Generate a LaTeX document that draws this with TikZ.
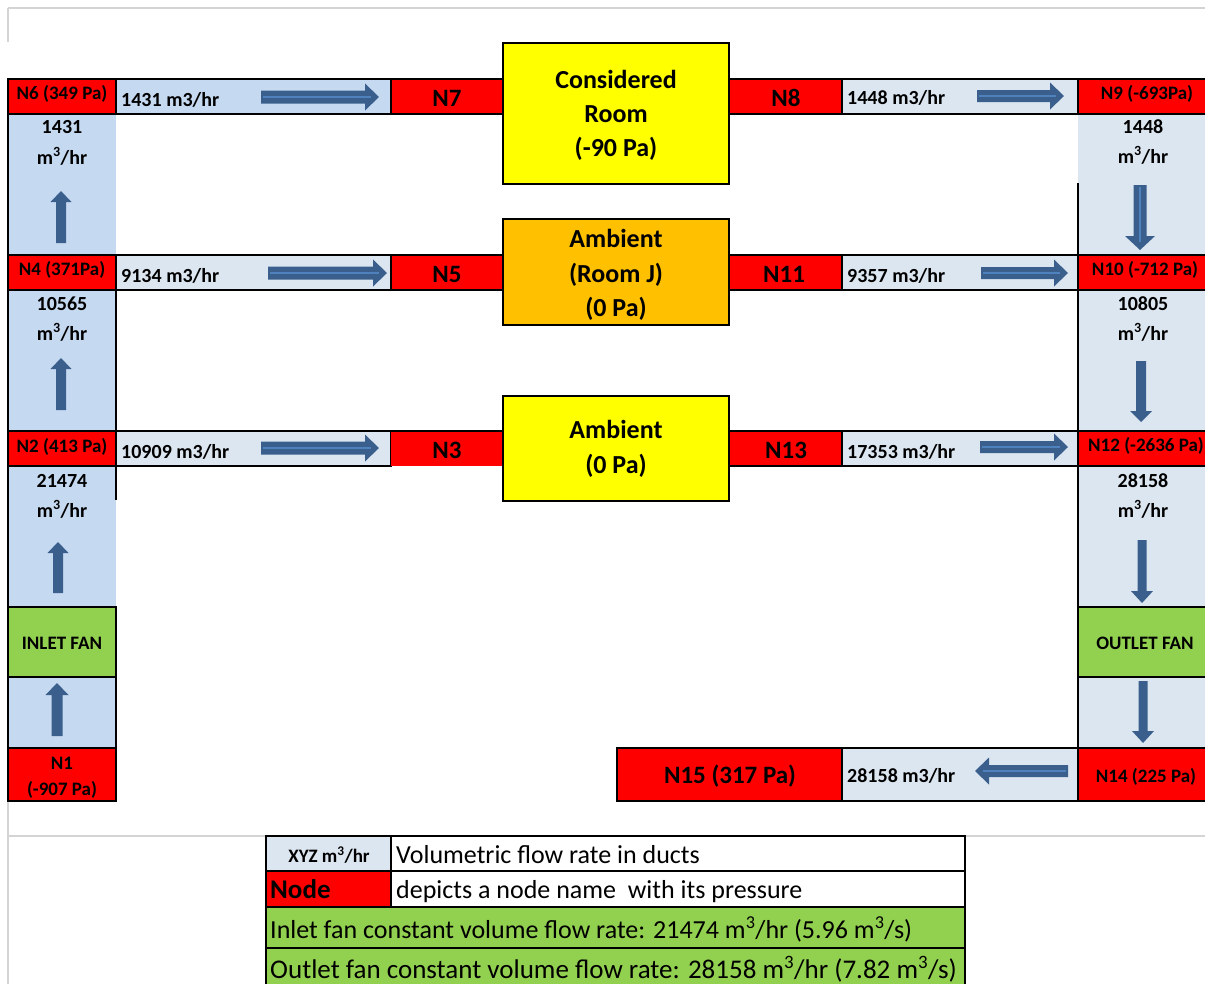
\documentclass[tikz,border=0pt]{standalone}
\usepackage{fontspec}
\setmainfont{Carlito}
\definecolor{nred}{HTML}{FF0000}
\definecolor{lblue}{HTML}{C5D9F1}
\definecolor{pblue}{HTML}{DCE6F1}
\definecolor{ryellow}{HTML}{FFFF00}
\definecolor{rorange}{HTML}{FFC000}
\definecolor{fgreen}{HTML}{92D050}
\definecolor{arrowc}{HTML}{3A5F8C}
\definecolor{arrowl}{HTML}{4F81BD}
\definecolor{gridg}{HTML}{D4D4D4}
\tikzset{
  cell/.style={rectangle, inner sep=0pt, outer sep=0pt, line width=2.4pt},
  bx/.style={cell, draw=black},
  border/.style={line width=2.4pt, black},
  smallb/.style={font=\bfseries\fontsize{19}{22}\selectfont, inner sep=0pt, anchor=base},
  colt/.style={font=\bfseries\fontsize{20}{23}\selectfont, inner sep=0pt, anchor=base},
  flowt/.style={font=\bfseries\fontsize{20}{23}\selectfont, inner sep=0pt, anchor=base west},
  bigb/.style={font=\bfseries\fontsize{25}{30}\selectfont, inner sep=0pt, anchor=base},
  roomt/.style={font=\bfseries\fontsize{26}{30}\selectfont, inner sep=0pt, anchor=base},
  legt/.style={font=\fontsize{26}{30}\selectfont, inner sep=0pt, anchor=base west},
  gridline/.style={gridg, line width=2pt},
}
\newcommand\cellat[6]{\node[#6, minimum width={(#4)-(#2)}, minimum height={(#5)-(#3)}] (#1) at ({((#2)+(#4))/2},{((#3)+(#5))/2}) {};}
% horizontal block arrow: tail x, tip x, y, shaft, head, signed head length
\newcommand\arrH[6]{\fill[arrowc] (#1,{(#3)-(#4)/2}) -- ({(#2)-(#6)},{(#3)-(#4)/2}) -- ({(#2)-(#6)},{(#3)-(#5)/2}) -- (#2,#3) -- ({(#2)-(#6)},{(#3)+(#5)/2}) -- ({(#2)-(#6)},{(#3)+(#4)/2}) -- (#1,{(#3)+(#4)/2}) -- cycle;}
\newcommand\arrHl[6]{\arrH{#1}{#2}{#3}{#4}{#5}{#6}\draw[arrowl, line width=2pt] ({(#1)+0.15*(#6)},#3) -- ({(#2)-0.55*(#6)},#3);}
% vertical block arrow: tail y, tip y, x, shaft, head, signed head length
\newcommand\arrV[6]{\fill[arrowc] ({(#3)-(#4)/2},#1) -- ({(#3)-(#4)/2},{(#2)-(#6)}) -- ({(#3)-(#5)/2},{(#2)-(#6)}) -- (#3,#2) -- ({(#3)+(#5)/2},{(#2)-(#6)}) -- ({(#3)+(#4)/2},{(#2)-(#6)}) -- ({(#3)+(#4)/2},#1) -- cycle;}
\newcommand\arrVl[6]{\arrV{#1}{#2}{#3}{#4}{#5}{#6}\draw[arrowl, line width=2pt] (#3,{(#1)+0.15*(#6)}) -- (#3,{(#2)-0.55*(#6)});}
\newcommand\mcube{m\textsuperscript{3}/hr}
\begin{document}
\begin{tikzpicture}[x=1pt,y=-1pt]
\useasboundingbox (0,0) rectangle (1205,983);
% sheet grid lines
\draw[gridline] (8,8) -- (1212,8);
\draw[gridline] (8,8) -- (8,42);
\draw[gridline] (8,801) -- (8,990);
\draw[gridline] (8,836) -- (1212,836);
% duct columns (fill only)
\cellat{V1}{8}{114}{116}{255}{cell, fill=lblue}
\cellat{V2}{8}{290}{116}{431}{cell, fill=lblue}
\cellat{V3}{8}{466}{116}{607}{cell, fill=lblue}
\cellat{V4}{8}{677}{116}{748}{cell, fill=lblue}
\cellat{V5}{1078}{114}{1212}{255}{cell, fill=pblue}
\cellat{V6}{1078}{290}{1212}{431}{cell, fill=pblue}
\cellat{V7}{1078}{466}{1212}{607}{cell, fill=pblue}
\cellat{V8}{1078}{677}{1212}{748}{cell, fill=pblue}
% row 1
\cellat{N6}{8}{79}{116}{114}{bx, fill=nred}
\cellat{F1}{116}{79}{391}{114}{bx, fill=lblue}
\cellat{N7}{391}{79}{503}{114}{bx, fill=nred}
\cellat{N8}{729}{79}{842}{114}{bx, fill=nred}
\cellat{F2}{842}{79}{1078}{114}{bx, fill=pblue}
\cellat{N9}{1078}{79}{1212}{114}{bx, fill=nred}
% row 2
\cellat{N4}{8}{255}{116}{290}{bx, fill=nred}
\cellat{F3}{116}{255}{391}{290}{bx, fill=pblue}
\cellat{N5}{391}{255}{503}{290}{bx, fill=nred}
\cellat{N11}{729}{255}{842}{290}{bx, fill=nred}
\cellat{F4}{842}{255}{1078}{290}{bx, fill=pblue}
\cellat{N10}{1078}{255}{1212}{290}{bx, fill=nred}
% row 3
\cellat{N2}{8}{431}{116}{466}{bx, fill=nred}
\cellat{F5}{116}{431}{391}{466}{bx, fill=pblue}
\cellat{N3}{391}{431}{503}{466}{cell, fill=nred}
\draw[border] (N3.north west) -- (N3.north east);
\cellat{N13}{729}{431}{842}{466}{bx, fill=nred}
\cellat{F6}{842}{431}{1078}{466}{bx, fill=pblue}
\cellat{N12}{1078}{431}{1212}{466}{bx, fill=nred}
% fans and end nodes
\cellat{FanIn}{8}{607}{116}{677}{bx, fill=fgreen}
\cellat{N1}{8}{748}{116}{801}{bx, fill=nred}
\cellat{FanOut}{1078}{607}{1212}{677}{bx, fill=fgreen}
\cellat{N14}{1078}{748}{1212}{801}{bx, fill=nred}
\cellat{F7}{842}{748}{1078}{801}{bx, fill=pblue}
\cellat{N15}{617}{748}{842}{801}{bx, fill=nred}
% rooms
\cellat{Room1}{503}{43}{729}{184}{bx, fill=ryellow}
\cellat{Room2}{503}{219}{729}{325}{bx, fill=rorange}
\cellat{Room3}{503}{396}{729}{501}{bx, fill=ryellow}
% column borders
\draw[border] (N6.north west) -- (N1.south west);
\draw[border] (V2.north east) -- (V2.south east);
\draw[border] (V3.north east) -- ([yshift=-34pt]V3.north east);
\draw[border] (V4.north east) -- (V4.south east);
\draw[border] ([yshift=-69pt]V5.north west) -- (N14.south west);
% flow arrows
\arrHl{261}{379}{97}{13}{27}{14}
\arrHl{268}{387}{273}{13}{27}{14}
\arrHl{261}{379}{448}{13}{27}{14}
\arrHl{977}{1064}{96}{12}{27}{14}
\arrHl{981}{1068}{273}{12}{27}{14}
\arrHl{980}{1068}{447}{12}{27}{14}
\arrHl{1068}{975}{771}{12}{27}{-14}
\arrV{243}{191}{61}{10}{21}{-11}
\arrV{410}{358}{61}{10}{21}{-11}
\arrV{593}{542}{58}{10}{21}{-11}
\arrV{736}{683}{57}{11}{23}{-12}
\arrVl{185}{250}{1140}{13}{30}{14}
\arrV{361}{422}{1141}{10}{22}{11}
\arrV{540}{603}{1142}{9}{22}{12}
\arrV{681}{743}{1143}{9}{22}{12}
% row texts
\node[smallb] (tN6) at (62,99) {N6 (349 Pa)};
\node[flowt] (tF1) at (121,106) {1431 m3/hr};
\node[bigb] (tN7) at (447,106) {N7};
\node[bigb] (tN8) at (786,106) {N8};
\node[flowt] (tF2) at (847,104) {1448 m3/hr};
\node[smallb] (tN9) at (1147,99) {N9 (-693Pa)};
\node[smallb] (tN4) at (62,275) {N4 (371Pa)};
\node[flowt] (tF3) at (121,282) {9134 m3/hr};
\node[bigb] (tN5) at (447,282) {N5};
\node[bigb] (tN11) at (784,282) {N11};
\node[flowt] (tF4) at (847,282) {9357 m3/hr};
\node[smallb] (tN10) at (1145,275) {N10 (-712 Pa)};
\node[smallb] (tN2) at (62,452) {N2 (413 Pa)};
\node[flowt] (tF5) at (121,458) {10909 m3/hr};
\node[bigb] (tN3) at (447,458) {N3};
\node[bigb] (tN13) at (786,458) {N13};
\node[flowt] (tF6) at (847,458) {17353 m3/hr};
\node[smallb] (tN12) at (1146,451) {N12 (-2636 Pa)};
% column texts
\node[colt] (tV1a) at (62,133) {1431};
\node[colt] (tV1b) at (62,164) {\mcube};
\node[colt] (tV2a) at (62,310) {10565};
\node[colt] (tV2b) at (62,340) {\mcube};
\node[colt] (tV3a) at (62,487) {21474};
\node[colt] (tV3b) at (62,517) {\mcube};
\node[colt] (tV5a) at (1143,133) {1448};
\node[colt] (tV5b) at (1143,163) {\mcube};
\node[colt] (tV6a) at (1143,310) {10805};
\node[colt] (tV6b) at (1143,340) {\mcube};
\node[colt] (tV7a) at (1143,487) {28158};
\node[colt] (tV7b) at (1143,517) {\mcube};
\node[smallb] (tFanIn) at (62,649) {INLET FAN};
\node[smallb] (tFanOut) at (1145,649) {OUTLET FAN};
\node[smallb] (tN1a) at (62,769) {N1};
\node[smallb] (tN1b) at (62,795) {(-907 Pa)};
\node[smallb] (tN14) at (1146,782) {N14 (225 Pa)};
\node[flowt] (tF7) at (847,782) {28158 m3/hr};
\node[bigb] (tN15) at (730,783) {N15 (317 Pa)};
% room texts
\node[roomt] (tR1a) at (616,88) {Considered};
\node[roomt] (tR1b) at (616,122) {Room};
\node[roomt] (tR1c) at (616,156) {(-90 Pa)};
\node[roomt] (tR2a) at (616,247) {Ambient};
\node[roomt] (tR2b) at (616,282) {(Room J)};
\node[roomt] (tR2c) at (616,316) {(0 Pa)};
\node[roomt] (tR3a) at (616,438) {Ambient};
\node[roomt] (tR3b) at (616,473) {(0 Pa)};
% legend
\cellat{L1a}{266}{836}{391}{871}{bx, fill=pblue}
\cellat{L1b}{391}{836}{965}{871}{bx, fill=white}
\cellat{L2a}{266}{871}{391}{907}{bx, fill=nred}
\cellat{L2b}{391}{871}{965}{907}{bx, fill=white}
\cellat{L3}{266}{907}{965}{948}{bx, fill=fgreen}
\cellat{L4}{266}{948}{965}{995}{bx, fill=fgreen}
\node[smallb] (tL1a) at (329,862) {XYZ \mcube};
\node[legt] (tL1b) at (396,863) {Volumetric flow rate in ducts};
\node[font=\bfseries\fontsize{27}{30}\selectfont, inner sep=0pt, anchor=base west] (tL2a) at (270,898) {Node};
\node[legt] (tL2b) at (396,898) {depicts a node name\ \ with its pressure};
\node[legt] (tL3) at (270,938) {Inlet fan constant volume flow rate: 21474 m\textsuperscript{3}/hr (5.96 m\textsuperscript{3}/s)};
\node[legt, font=\fontsize{27}{30}\selectfont] (tL4) at (270,978) {Outlet fan constant volume flow rate: 28158 m\textsuperscript{3}/hr (7.82 m\textsuperscript{3}/s)};
\end{tikzpicture}
\end{document}
